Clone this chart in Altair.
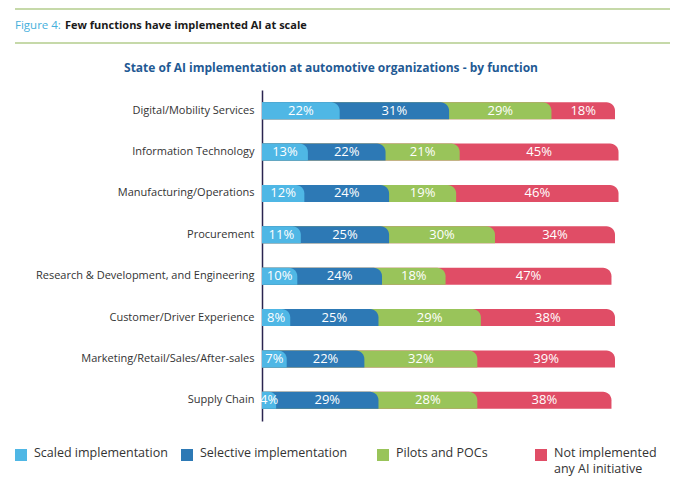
import altair as alt
import pandas as pd

functions = [
    "Digital/Mobility Services",
    "Information Technology",
    "Manufacturing/Operations",
    "Procurement",
    "Research & Development, and Engineering",
    "Customer/Driver Experience",
    "Marketing/Retail/Sales/After-sales",
    "Supply Chain",
]
series = ["Scaled implementation", "Selective implementation", "Pilots and POCs", "Not implemented any AI initiative"]
scaled = [22, 13, 12, 11, 10, 8, 7, 4]
selective = [31, 22, 24, 25, 24, 25, 22, 29]
pilots = [29, 21, 19, 30, 18, 29, 32, 28]
not_impl = [18, 45, 46, 34, 47, 38, 39, 38]
colors = ["#4fb7e5", "#2d79b5", "#99c45a", "#e04d66"]

FONT = "Open Sans"

rows = []
for i, f in enumerate(functions):
    vals = [scaled[i], selective[i], pilots[i], not_impl[i]]
    start = 0
    for k, v in enumerate(vals):
        end = start + v
        rows.append({"function": f, "series": series[k], "k": k, "value": v,
                     "start": start, "end": end, "mid": (start + end) / 2,
                     "label": f"{v}%"})
        start = end
df = pd.DataFrame(rows)
# draw longest (last series) first so earlier segments overlap with rounded corners
df = df.sort_values("k", ascending=False).reset_index(drop=True)

yaxis = alt.Axis(title=None, ticks=False, labelPadding=8, labelFontSize=11,
                 labelColor="#333333", labelFont=FONT, domainColor="#2a2450",
                 domainWidth=1.5, grid=False, labelLimit=300)
yscale = alt.Scale(paddingInner=0, paddingOuter=0)
xscale = alt.Scale(domain=[0, 100], nice=False, zero=True)

bars = alt.Chart(df).mark_bar(size=17, cornerRadiusTopRight=9, clip=False).encode(
    x=alt.X("x0:Q", scale=xscale, axis=None),
    x2="end:Q",
    y=alt.Y("function:N", sort=functions, scale=yscale, axis=yaxis),
    color=alt.Color("series:N", scale=alt.Scale(domain=series, range=colors), legend=None),
    order=alt.Order("k:Q", sort="descending"),
).transform_calculate(x0="0")

labels = alt.Chart(df).mark_text(color="white", fontSize=13, font=FONT, baseline="middle").encode(
    x=alt.X("mid:Q", scale=xscale, axis=None),
    y=alt.Y("function:N", sort=functions, scale=yscale, axis=yaxis),
    text="label:N",
)

OX, OY = 262, 90  # plot origin in page pixels

def tx(text, x, y, **kw):
    return alt.Chart(pd.DataFrame({"t": [text]})).mark_text(font=FONT, **kw).encode(
        x=alt.value(x - OX), y=alt.value(y - OY), text="t:N")

deco = [
    alt.Chart(pd.DataFrame({"a": [0]})).mark_rule(color="#b3cd8c", strokeWidth=1.5).encode(
        x=alt.value(15 - OX), x2=alt.value(670 - OX), y=alt.value(9 - OY)),
    alt.Chart(pd.DataFrame({"a": [0]})).mark_rule(color="#b3cd8c", strokeWidth=1.5).encode(
        x=alt.value(15 - OX), x2=alt.value(670 - OX), y=alt.value(43 - OY)),
    tx("Figure 4:", 15, 26, align="left", baseline="middle", fontSize=11.5, color="#45b0dc"),
    tx("Few functions have implemented AI at scale", 65, 26, align="left", baseline="middle",
       fontSize=11, fontWeight="bold", color="#1a1a1a"),
    tx("State of AI implementation at automotive organizations - by function", 331, 68,
       align="center", baseline="middle", fontSize=12, fontWeight="bold", color="#1f5a94"),
]

leg_x = [15, 181, 377, 535]
leg_text = ["Scaled implementation", "Selective implementation", "Pilots and POCs",
            "Not implemented\nany AI initiative"]
for i in range(4):
    deco.append(alt.Chart(pd.DataFrame({"a": [0]})).mark_square(size=144, color=colors[i], opacity=1).encode(
        x=alt.value(leg_x[i] + 6 - OX), y=alt.value(455 - OY)))
    deco.append(alt.Chart(pd.DataFrame({"t": [leg_text[i]]})).mark_text(
        font=FONT, align="left", baseline="top", fontSize=12.5, color="#333333",
        lineBreak="\n", lineHeight=16).encode(
        x=alt.value(leg_x[i] + 19 - OX), y=alt.value(447 - OY), text="t:N"))

chart = alt.layer(bars, labels, *deco).properties(
    width=353, height=331,
    autosize=alt.AutoSizeParams(type="none"),
    padding={"left": OX, "top": OY, "right": 680 - OX - 353, "bottom": 489 - OY - 331},
).configure(background="white").configure_view(stroke=None)

chart.save("out.html", embed_options={"renderer": "svg", "actions": False})
